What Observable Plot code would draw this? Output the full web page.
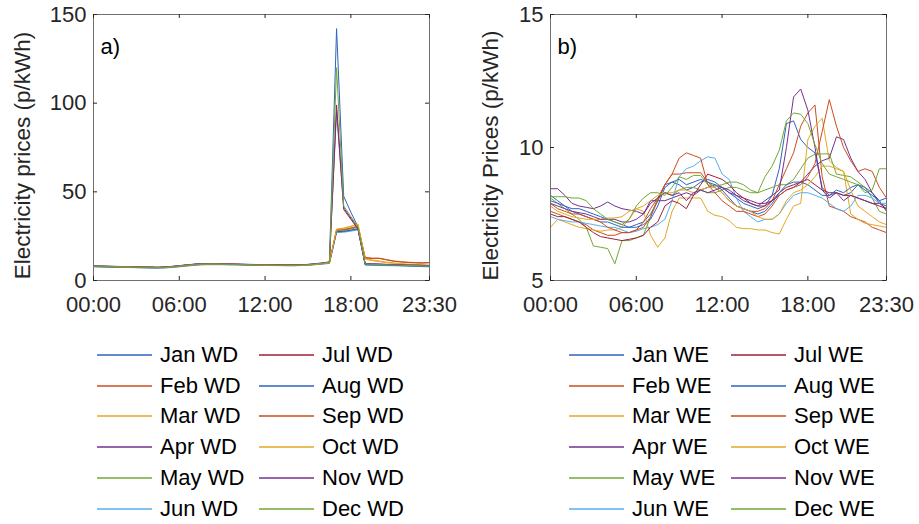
<!DOCTYPE html>
<html><head><meta charset="utf-8">
<script src="https://cdn.jsdelivr.net/npm/d3@7"></script>
<script src="https://cdn.jsdelivr.net/npm/@observablehq/plot@0.6"></script>
<style>
body{margin:0;background:#fff;}
#wrap{position:relative;width:919px;height:524px;overflow:hidden;background:#fff;font-family:"Liberation Sans",Arial,sans-serif;}
.panel{position:absolute;top:0;}
.item{position:absolute;height:30px;display:flex;align-items:center;font-size:22px;color:#000;white-space:nowrap;}
.item svg{margin-right:8px;}
</style></head>
<body><div id="wrap"></div>
<script>
const months = ["Jan","Feb","Mar","Apr","May","Jun","Jul","Aug","Sep","Oct","Nov","Dec"];
const colors = ["#2f62c2","#cc4b1f","#e3a824","#76308f","#72a832","#56aef0","#9c2238","#2f62c2","#cc4b1f","#e3a824","#76308f","#72a832"];
const xTicks = [0, 12, 24, 36, 47];
const xTickLabels = ["00:00","06:00","12:00","18:00","23:30"];
const yTicksA = [0, 50, 100, 150];
const yTicksB = [5, 10, 15];

// Weekday prices (p/kWh), 48 half-hours
const janWD = [8.2,8.1,8.0,7.9,7.8,7.7,7.6,7.5,7.5,7.4,7.5,7.8, 8.2,8.6,9.0,9.3,9.4,9.3,9.3,9.2,9.1,9.0,8.9,8.9, 8.8,8.7,8.7,8.6,8.6,8.7,9.0,9.3,9.7,10.4,142,47.5, 38.5,30.2,9.3,9.1,9.0,8.8,8.7,8.6,8.4,8.3,8.2,8.0];
const febWD = [8.0,7.9,7.8,7.7,7.7,7.6,7.5,7.4,7.3,7.3,7.4,7.6, 8.0,8.4,8.8,9.1,9.2,9.2,9.1,9.1,9.0,8.9,8.8,8.7, 8.6,8.6,8.5,8.5,8.5,8.6,8.8,9.1,9.5,10.0,28.0,28.5, 29.5,30.5,13.0,12.6,12.6,11.8,11.0,10.6,10.3,10.1,10.0,10.2];
const marWD = [7.8,7.7,7.6,7.6,7.5,7.4,7.3,7.2,7.2,7.1,7.2,7.4, 7.8,8.2,8.6,8.9,9.0,9.0,9.0,8.9,8.9,8.8,8.7,8.6, 8.5,8.5,8.4,8.4,8.4,8.5,8.7,9.0,9.4,9.9,29.0,29.6, 30.6,31.8,12.4,11.6,11.0,10.4,9.9,9.5,9.2,9.0,8.8,8.6];
const aprWD = [8.0,7.9,7.8,7.8,7.7,7.6,7.5,7.4,7.4,7.3,7.5,7.8, 8.3,8.7,9.1,9.3,9.3,9.2,9.2,9.1,9.0,8.9,8.8,8.8, 8.7,8.6,8.6,8.5,8.5,8.6,8.8,9.1,9.5,10.0,27.5,27.8, 28.4,29.2,9.2,9.0,8.9,8.7,8.6,8.5,8.4,8.2,8.1,8.0];
const mayWD = [7.9,7.8,7.7,7.6,7.5,7.4,7.3,7.2,7.1,7.1,7.2,7.5, 7.9,8.3,8.7,9.0,9.1,9.1,9.0,9.0,8.9,8.8,8.7,8.7, 8.6,8.5,8.5,8.4,8.4,8.5,8.7,9.0,9.4,9.8,28.2,28.4, 29.0,30.0,9.0,8.8,8.7,8.6,8.5,8.4,8.3,8.2,8.0,7.9];
const junWD = [7.7,7.6,7.5,7.5,7.4,7.3,7.2,7.1,7.1,7.0,7.1,7.3, 7.7,8.1,8.5,8.8,8.9,8.9,8.9,8.8,8.8,8.7,8.6,8.5, 8.5,8.4,8.4,8.3,8.3,8.4,8.6,8.9,9.2,9.6,27.0,27.2, 27.8,28.6,8.7,8.6,8.5,8.4,8.3,8.2,8.1,8.0,7.8,7.7];
const julWD = [8.1,8.0,7.9,7.8,7.8,7.7,7.6,7.5,7.5,7.4,7.6,7.9, 8.3,8.7,9.1,9.4,9.4,9.4,9.3,9.3,9.2,9.1,9.0,8.9, 8.8,8.8,8.7,8.7,8.7,8.8,9.0,9.3,9.8,10.3,99,41.0, 35.2,29.5,9.4,9.3,9.2,9.0,8.9,8.8,8.7,8.6,8.5,8.4];
const augWD = [7.9,7.8,7.7,7.6,7.6,7.5,7.4,7.3,7.2,7.2,7.3,7.6, 8.0,8.4,8.8,9.1,9.2,9.1,9.1,9.0,9.0,8.9,8.8,8.7, 8.6,8.6,8.5,8.5,8.5,8.6,8.8,9.1,9.5,9.9,27.5,27.6, 28.3,29.0,8.9,8.8,8.7,8.6,8.5,8.4,8.3,8.1,8.0,7.9];
const sepWD = [8.1,8.0,7.9,7.8,7.7,7.6,7.5,7.4,7.4,7.3,7.4,7.7, 8.1,8.5,8.9,9.2,9.3,9.3,9.2,9.2,9.1,9.0,8.9,8.8, 8.7,8.7,8.6,8.6,8.6,8.7,8.9,9.2,9.6,10.1,28.5,28.8, 29.6,30.5,12.8,12.4,12.4,11.6,10.8,10.4,10.1,9.9,9.8,10.0];
const octWD = [8.0,7.9,7.8,7.8,7.7,7.6,7.5,7.4,7.3,7.3,7.4,7.7, 8.1,8.5,8.9,9.2,9.3,9.3,9.2,9.2,9.1,9.0,8.9,8.8, 8.7,8.6,8.6,8.5,8.5,8.6,8.8,9.1,9.5,10.0,28.8,29.3, 30.5,31.5,12.0,11.2,10.6,10.0,9.6,9.3,9.0,8.8,8.6,8.4];
const novWD = [8.3,8.2,8.1,8.0,7.9,7.8,7.7,7.6,7.6,7.5,7.7,8.0, 8.4,8.8,9.2,9.5,9.6,9.5,9.5,9.4,9.3,9.2,9.1,9.0, 8.9,8.9,8.8,8.8,8.8,8.9,9.1,9.5,9.9,10.5,96,40.0, 34.5,29.0,9.5,9.4,9.3,9.1,9.0,8.9,8.8,8.7,8.6,8.5];
const decWD = [8.2,8.1,8.0,7.9,7.8,7.7,7.6,7.5,7.4,7.4,7.5,7.8, 8.2,8.6,9.0,9.3,9.4,9.4,9.3,9.2,9.1,9.0,8.9,8.8, 8.8,8.7,8.6,8.6,8.6,8.7,8.9,9.3,9.7,10.3,120,42.0, 36.0,30.0,9.3,9.1,9.0,8.8,8.7,8.6,8.5,8.4,8.2,8.1];

// Weekend prices (p/kWh)
const janWE = [8.2,8.0,7.8,7.7,7.7,7.6,7.5,7.4,7.3,7.2,7.1,7.0, 7.1,7.2,7.5,8.0,8.6,8.7,8.6,8.4,8.5,8.7,8.8,8.7, 8.5,8.3,8.1,7.9,7.8,7.7,7.8,8.2,9.2,10.9,11.0,10.3, 10.0,9.8,8.5,8.2,8.3,8.2,8.3,8.6,8.5,8.3,7.9,7.8];
const febWE = [7.6,7.5,7.4,7.3,7.2,7.1,6.9,6.8,6.7,6.7,6.8,6.8, 6.9,7.2,7.7,8.1,8.6,9.0,9.0,9.05,9.05,9.05,8.7,8.5, 8.3,8.0,7.8,7.7,7.6,7.6,7.7,8.0,8.6,9.2,9.8,10.8, 11.3,11.6,8.9,7.8,7.7,7.6,7.4,7.3,7.2,7.0,6.9,6.8];
const marWE = [7.0,7.3,7.2,7.1,7.0,6.95,6.9,6.85,6.9,6.9,7.0,7.3, 7.7,7.6,6.7,6.25,6.6,7.6,8.1,8.1,8.1,8.1,7.6,7.45, 7.4,7.25,7.0,6.95,6.95,6.9,6.9,6.8,6.75,7.3,7.8,7.9, 10.3,10.8,11.1,9.5,9.25,9.1,7.5,7.3,7.15,7.1,7.05,7.0];
const aprWE = [8.45,8.45,8.2,7.9,7.8,7.75,7.7,7.8,7.95,7.8,7.7,7.65, 7.6,7.5,8.0,8.0,8.0,8.1,8.2,8.3,8.2,8.4,8.5,8.6, 8.5,8.3,8.2,8.1,8.0,7.9,7.9,8.0,8.2,8.4,8.5,8.7, 9.0,9.3,9.5,9.6,10.4,10.3,9.6,9.1,8.8,8.3,8.0,7.6];
const mayWE = [8.1,7.9,7.7,7.5,7.3,7.0,6.3,6.25,6.2,5.63,6.5,6.5, 6.6,6.7,7.4,8.1,8.3,8.2,8.4,8.5,8.5,8.4,8.3,8.3, 8.4,8.5,8.5,8.4,8.3,8.3,8.4,8.5,8.6,8.6,8.8,9.2, 9.6,9.75,9.76,9.76,9.0,8.95,8.9,8.7,8.5,8.1,7.6,7.5];
const junWE = [7.4,7.3,7.25,7.2,7.2,7.15,7.1,7.05,7.0,7.0,6.9,6.8, 6.85,6.95,7.0,7.1,7.3,8.0,8.9,9.2,9.3,9.5,9.65,9.6, 9.0,8.8,8.1,7.6,7.4,7.2,7.3,7.3,7.5,7.9,8.2,8.3, 8.3,8.2,8.1,7.9,7.7,7.6,7.8,8.2,8.2,8.1,7.9,7.9];
const julWE = [7.5,7.4,7.4,7.3,7.2,7.0,6.8,6.65,6.6,6.55,6.5,6.55, 6.6,6.7,7.0,7.2,7.8,8.0,7.9,7.7,8.2,8.6,9.0,8.9, 8.8,8.6,8.3,8.1,7.9,7.8,7.8,8.0,8.3,8.5,8.6,8.7, 8.8,8.6,8.4,8.3,8.3,8.2,8.2,8.1,8.0,7.9,7.8,7.7];
const augWE = [8.0,7.9,7.8,7.6,7.5,7.4,7.3,7.2,7.2,7.1,7.0,7.0, 7.0,7.1,7.3,7.8,8.5,8.7,8.8,8.6,8.7,8.8,8.7,8.6, 8.4,8.1,7.8,7.7,7.6,7.5,7.6,7.9,8.3,8.6,8.7,8.7, 8.6,8.4,8.2,8.2,8.4,8.3,8.5,8.6,8.4,8.2,8.0,8.1];
const sepWE = [7.9,7.7,7.6,7.5,7.5,7.4,7.3,7.2,7.0,6.9,6.8,6.8, 6.9,7.0,7.4,8.0,8.6,9.0,9.6,9.8,9.7,9.6,8.6,8.3, 8.0,7.8,7.6,7.6,7.5,7.4,7.5,7.8,8.2,8.4,8.5,8.6, 8.9,9.4,10.6,11.8,10.8,10.0,9.5,9.1,9.2,9.1,8.5,8.1];
const octWE = [7.8,7.6,7.5,7.4,7.35,7.3,7.3,7.3,7.35,7.35,7.4,7.6, 7.7,7.8,8.0,8.2,8.3,8.3,8.4,8.4,8.3,8.4,8.5,8.5, 8.3,8.0,7.8,7.7,7.6,7.4,7.3,7.3,7.5,8.0,8.3,8.4, 8.6,8.9,9.3,9.3,9.2,9.1,8.4,7.8,7.6,7.4,7.2,7.1];
const novWE = [7.9,7.8,7.7,7.6,7.55,7.5,7.4,7.3,7.3,7.3,7.2,7.2, 7.3,7.5,7.9,8.1,8.3,8.2,8.3,8.0,8.3,8.4,8.3,8.4, 8.5,8.4,8.2,8.0,7.9,7.8,8.0,8.2,8.4,10.0,11.9,12.2, 11.4,10.0,8.4,8.1,8.3,8.0,8.2,8.1,8.0,7.9,7.9,7.7];
const decWE = [8.15,8.15,8.15,8.1,8.1,8.0,7.7,7.5,7.3,7.2,7.1,7.3, 7.8,8.1,8.3,8.3,8.2,8.5,8.9,8.8,8.95,8.95,8.6,8.55, 8.6,8.7,8.7,8.6,8.4,8.3,8.9,9.3,9.9,11.0,11.3,11.25, 10.9,10.1,9.4,9.0,8.9,8.8,8.7,8.6,8.3,8.4,9.2,9.2];

const seriesWD = [janWD,febWD,marWD,aprWD,mayWD,junWD,julWD,augWD,sepWD,octWD,novWD,decWD];
const seriesWE = [janWE,febWE,marWE,aprWE,mayWE,junWE,julWE,augWE,sepWE,octWE,novWE,decWE];

const wrap = document.getElementById("wrap");
const FONT = '"Liberation Sans", Arial, Helvetica, sans-serif';

function makePanel({series, suffix, yDomain, yTicks, ylabel, labelDx, tag, left, width, marginLeft, marginRight}) {
  const names = months.map(m => m + " " + suffix);
  const rows = [];
  names.forEach((n, k) => series[k].forEach((v, i) => rows.push({name: n, i, v})));
  const H = 320, mt = 14, mb = 40;
  const innerH = H - mt - mb, innerW = width - marginLeft - marginRight;
  const axisColor = "#262626";
  const svg = Plot.plot({
    width, height: H, marginLeft, marginRight, marginTop: mt, marginBottom: mb,
    style: {fontFamily: FONT, color: axisColor, background: "transparent", overflow: "visible"},
    x: {domain: [0, 47]},
    y: {domain: yDomain},
    color: {domain: names, range: colors},
    marks: [
      Plot.line(rows, {x: "i", y: "v", z: "name", stroke: "name", strokeWidth: 1}),
      Plot.frame({stroke: "#707070", strokeWidth: 1}),
      Plot.tickX(xTicks, {x: d => d, insetTop: innerH - 4, stroke: axisColor}),
      Plot.tickX(xTicks, {x: d => d, insetBottom: innerH - 4, stroke: axisColor}),
      Plot.tickY(yTicks, {y: d => d, insetRight: innerW - 4, stroke: axisColor}),
      Plot.tickY(yTicks, {y: d => d, insetLeft: innerW - 4, stroke: axisColor}),
      Plot.axisX({ticks: xTicks, tickFormat: d => xTickLabels[xTicks.indexOf(d)], tickSize: 0, tickPadding: 16, fontSize: 22, label: null}),
      Plot.axisY({ticks: yTicks, tickSize: 0, tickPadding: 7, fontSize: 22, label: null}),
      Plot.text([ylabel], {text: d => d, frameAnchor: "left", textAnchor: "middle", lineAnchor: "middle", rotate: -90, dx: labelDx, dy: 8, fontSize: 22.5, fill: axisColor}),
      Plot.text([tag], {text: d => d, frameAnchor: "top-left", dx: 7, dy: 24, textAnchor: "start", fontSize: 22, fill: "#000"})
    ]
  });
  const div = document.createElement("div");
  div.className = "panel";
  div.style.left = left + "px";
  div.appendChild(svg);
  wrap.appendChild(div);
  return names;
}

function makeLegend(names, col1x, col2x) {
  const rowY = [355, 385.7, 416.4, 447.1, 477.8, 508.5];
  names.forEach((n, k) => {
    const col = k < 6 ? 0 : 1;
    const r = k % 6;
    const item = document.createElement("div");
    item.className = "item";
    item.style.left = (col === 0 ? col1x : col2x) + "px";
    item.style.top = (rowY[r] - 15) + "px";
    item.innerHTML = `<svg width="55" height="4"><line x1="0" x2="55" y1="2" y2="2" stroke="${colors[k]}" stroke-width="1.3"/></svg><span>${n}</span>`;
    wrap.appendChild(item);
  });
}

const namesA = makePanel({series: seriesWD, suffix: "WD", yDomain: [0, 150], yTicks: yTicksA,
  ylabel: "Electricity prices (p/kWh)", labelDx: -71, tag: "a)", left: 0, width: 460, marginLeft: 93, marginRight: 31});
const namesB = makePanel({series: seriesWE, suffix: "WE", yDomain: [5, 15], yTicks: yTicksB,
  ylabel: "Electricity Prices (p/kWh)", labelDx: -60, tag: "b)", left: 460, width: 459, marginLeft: 90, marginRight: 33});
makeLegend(namesA, 97, 259);
makeLegend(namesB, 569, 731);
</script></body></html>
